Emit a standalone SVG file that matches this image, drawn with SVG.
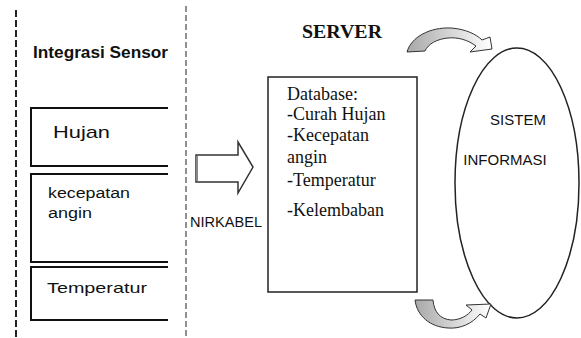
<svg xmlns="http://www.w3.org/2000/svg" width="581" height="338" viewBox="0 0 581 338">
  <style>
    .sans { font-family: "Liberation Sans", Arial, sans-serif; fill: #111; }
    .serif { font-family: "Liberation Serif", "Times New Roman", serif; fill: #111; }
    .panel { fill: none; stroke: #111; stroke-width: 2; }
    .sep { fill: none; stroke: #222; }
  </style>
  <defs>
    <linearGradient id="bandFill" x1="0" y1="0" x2="1" y2="0">
      <stop offset="0" stop-color="#a8a8a8"/>
      <stop offset="0.45" stop-color="#d0d0d0"/>
      <stop offset="1" stop-color="#ffffff"/>
    </linearGradient>
  </defs>

  <rect width="581" height="338" fill="#ffffff"/>

  <!-- dashed separators -->
  <g id="separators">
    <line class="sep" x1="16" y1="10" x2="16" y2="338" stroke-width="2" stroke-dasharray="7 3"/>
    <line class="sep" x1="186" y1="6" x2="186" y2="338" stroke-width="1" stroke-dasharray="6 3" stroke="#555"/>
  </g>

  <!-- sensor integration panel -->
  <g id="sensor-title">
    <text class="sans" x="33" y="58" font-size="16" font-weight="bold" textLength="135" lengthAdjust="spacingAndGlyphs">Integrasi Sensor</text>
  </g>
  <g id="sensor-hujan">
    <path class="panel" d="M168,108 H31 V166 H168"/>
    <text class="sans" x="53" y="138" font-size="17" textLength="57" lengthAdjust="spacingAndGlyphs">Hujan</text>
  </g>
  <g id="sensor-angin">
    <path class="panel" d="M168,174 H31 V262 H168"/>
    <text class="sans" x="48" y="198" font-size="14" textLength="82" lengthAdjust="spacingAndGlyphs">kecepatan</text>
    <text class="sans" x="48" y="218" font-size="14" textLength="44" lengthAdjust="spacingAndGlyphs">angin</text>
  </g>
  <g id="sensor-temperatur">
    <path class="panel" d="M168,267 H31 V320 H168"/>
    <text class="sans" x="47" y="293" font-size="15" textLength="100" lengthAdjust="spacingAndGlyphs">Temperatur</text>
  </g>

  <!-- wireless link -->
  <g id="nirkabel">
    <path d="M196,155 H238 V142 L253,167 L238,193 V182 H196 Z" fill="#ffffff" stroke="#333" stroke-width="1.5"/>
    <line x1="197" y1="156" x2="197" y2="181" stroke="#888" stroke-width="2"/>
    <text class="sans" x="190" y="227" font-size="15" textLength="72" lengthAdjust="spacingAndGlyphs">NIRKABEL</text>
  </g>

  <!-- server -->
  <g id="server">
    <text class="serif" x="302" y="38" font-size="18" font-weight="bold" textLength="80" lengthAdjust="spacingAndGlyphs">SERVER</text>
    <rect x="268" y="77" width="149" height="215" fill="#ffffff" stroke="#222" stroke-width="1.5"/>
    <g class="serif" font-size="18">
      <text x="287" y="100">Database:</text>
      <text x="287" y="120">-Curah Hujan</text>
      <text x="287" y="141">-Kecepatan</text>
      <text x="287" y="163">angin</text>
      <text x="287" y="186">-Temperatur</text>
      <text x="287" y="216">-Kelembaban</text>
    </g>
  </g>

  <!-- information system -->
  <g id="sistem-informasi">
    <ellipse cx="517" cy="183" rx="62" ry="135" fill="#ffffff" stroke="#222" stroke-width="1.5"/>
    <text class="sans" x="518" y="125" font-size="15" text-anchor="middle">SISTEM</text>
    <text class="sans" x="505" y="165" font-size="15" text-anchor="middle">INFORMASI</text>
  </g>

  <!-- curved flow arrows -->
  <g id="connectors" fill="url(#bandFill)" stroke="#333" stroke-width="1">
    <path d="M407,52 C411,37 430,27 451,28 C465,29 476,34 482,40 L490,37 L492,49 L470,52 L476,46 C468,40 458,37 448,38 C437,39 428,44 425,51 Z"/>
    <path d="M415,300 L433,300 C434,312 440,319 451,320 C461,320 468,315 472,310 L466,305 L491,304 L486,318 L480,314 C472,324 460,329 448,328 C430,327 417,316 415,300 Z"/>
  </g>
</svg>
